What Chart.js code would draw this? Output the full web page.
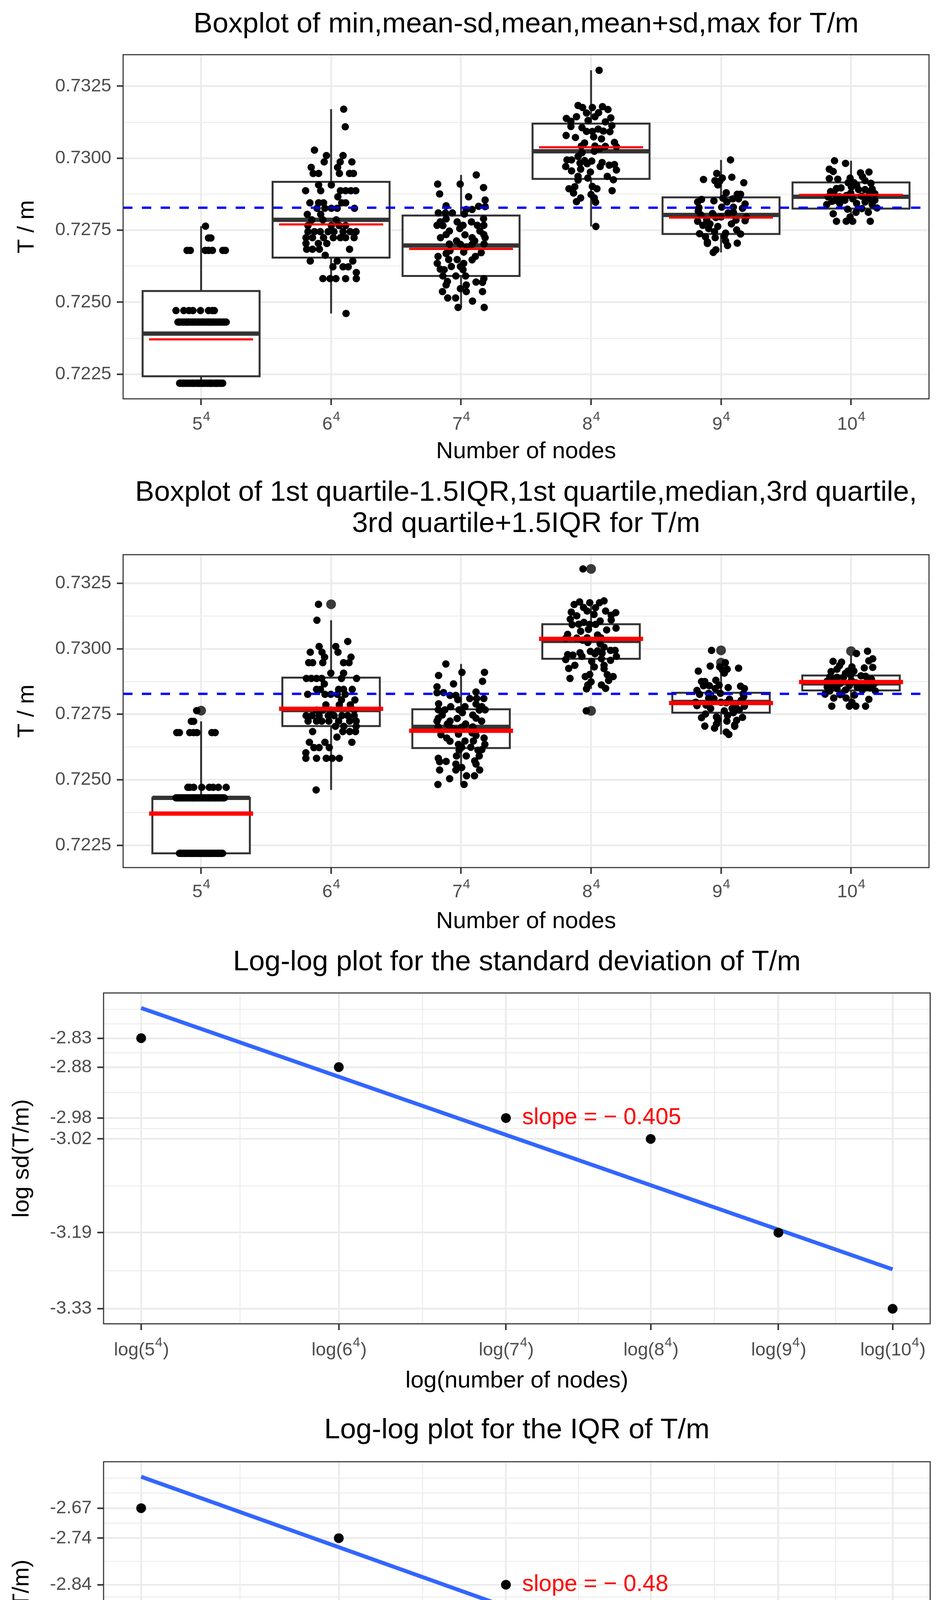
<!DOCTYPE html>
<html>
<head>
<meta charset="utf-8">
<script src="https://cdn.jsdelivr.net/npm/chart.js"></script>
<style>
html, body { margin: 0; padding: 0; background: #ffffff; }
#wrap { position: relative; width: 2400px; height: 4800px; background: #ffffff; }
canvas { position: absolute; left: 0; }
</style>
</head>
<body>
<div id="wrap">
  <canvas id="c1" width="2400" height="1200" style="top:0px"></canvas>
  <canvas id="c2" width="2400" height="1200" style="top:1200px"></canvas>
  <canvas id="c3" width="2400" height="1200" style="top:2400px"></canvas>
  <canvas id="c4" width="2400" height="1200" style="top:3600px"></canvas>
</div>
<script>
// ===================== DATA =====================
const nodeBase = ['5', '6', '7', '8', '9', '10'];
const nodeExp = '4';
const refLine = 0.72828;                       // blue dashed reference level
const yTicksBox = [0.7225, 0.7250, 0.7275, 0.7300, 0.7325];

// jittered observations per category: [horizontal jitter, T/m]
const row = (y, dxs) => dxs.map(d => [d, y]);
const pts5 = [
  ...row(0.72764, [0.034]),
  ...row(0.72723, [0.057, 0.075]),
  ...row(0.72680, [-0.108, -0.083, 0.032, 0.057, 0.087, 0.167, 0.187]),
  ...row(0.72471, [-0.193, -0.133, -0.093, -0.063, -0.005, 0.057, 0.087, 0.102]),
  ...row(0.72431, [-0.178, -0.168, -0.155, -0.141, -0.132, -0.120, -0.104, -0.097, -0.083, -0.071, -0.060, -0.052, -0.038, -0.027, -0.015, -0.004, 0.008, 0.019, 0.031, 0.044, 0.052, 0.066, 0.075, 0.089, 0.098, 0.111, 0.122, 0.136, 0.147, 0.158, 0.170, 0.181, 0.193, 0.063, -0.110]),
  ...row(0.72219, [-0.165, -0.158, -0.149, -0.140, -0.131, -0.122, -0.115, -0.104, -0.096, -0.088, -0.079, -0.071, -0.060, -0.053, -0.044, -0.035, -0.027, -0.018, -0.009, 0.002, 0.011, 0.019, 0.028, 0.037, 0.046, 0.054, 0.063, 0.071, 0.080, 0.089, 0.098, 0.107, 0.115, 0.124, 0.133, 0.141, 0.150, 0.158, 0.166, -0.137, -0.064, 0.006, 0.072, 0.118, -0.021])
];
const pts6 = [[0.097,0.73170],[0.109,0.73109],[-0.128,0.73028],[-0.036,0.73009],[-0.053,0.72987],[0.092,0.73009],[0.070,0.72987],[0.160,0.72987],[-0.153,0.72968],[0.050,0.72968],[-0.138,0.72947],[-0.096,0.72947],[0.064,0.72947],[0.142,0.72947],[0.172,0.72947],[-0.096,0.72907],[0.002,0.72907],[-0.196,0.72887],[-0.080,0.72887],[0.072,0.72887],[0.112,0.72887],[0.152,0.72887],[0.190,0.72887],[0.052,0.72866],[-0.163,0.72845],[-0.096,0.72845],[-0.058,0.72845],[0.082,0.72845],[0.112,0.72845],[-0.108,0.72826],[-0.048,0.72826],[0.002,0.72826],[0.047,0.72826],[0.180,0.72826],[-0.183,0.72805],[-0.080,0.72805],[-0.148,0.72786],[-0.063,0.72786],[0.040,0.72786],[-0.178,0.72766],[0.002,0.72766],[0.062,0.72766],[0.112,0.72766],[-0.178,0.72745],[-0.128,0.72745],[-0.083,0.72745],[-0.023,0.72745],[0.022,0.72745],[0.092,0.72745],[0.147,0.72745],[0.192,0.72745],[-0.193,0.72724],[-0.143,0.72724],[-0.058,0.72724],[0.017,0.72724],[0.072,0.72724],[0.112,0.72724],[0.177,0.72724],[-0.193,0.72704],[-0.098,0.72704],[-0.033,0.72704],[-0.188,0.72684],[-0.143,0.72684],[-0.090,0.72684],[0.142,0.72684],[-0.045,0.72663],[-0.160,0.72643],[0.047,0.72643],[0.167,0.72643],[0.014,0.72623],[0.092,0.72623],[0.132,0.72623],[0.194,0.72603],[-0.063,0.72582],[-0.008,0.72582],[0.037,0.72582],[0.112,0.72582],[0.194,0.72582],[0.115,0.72461]];
const pts7 = [[0.117,0.72942],[-0.180,0.72910],[-0.007,0.72910],[0.173,0.72898],[-0.165,0.72876],[0.058,0.72866],[0.185,0.72855],[-0.115,0.72835],[0.135,0.72833],[0.185,0.72832],[0.040,0.72822],[0.085,0.72822],[-0.175,0.72810],[-0.120,0.72810],[-0.067,0.72810],[0.025,0.72806],[-0.115,0.72789],[0.173,0.72790],[-0.160,0.72779],[-0.030,0.72779],[0.080,0.72779],[-0.185,0.72767],[-0.140,0.72766],[0.015,0.72767],[0.125,0.72767],[0.175,0.72767],[-0.010,0.72756],[-0.090,0.72747],[0.145,0.72747],[-0.115,0.72735],[0.030,0.72734],[0.175,0.72735],[-0.158,0.72724],[0.085,0.72724],[0.185,0.72724],[-0.035,0.72713],[0.105,0.72713],[-0.090,0.72702],[-0.005,0.72701],[0.045,0.72692],[0.085,0.72701],[0.177,0.72702],[-0.085,0.72679],[0.020,0.72674],[0.155,0.72672],[-0.115,0.72669],[-0.177,0.72659],[0.110,0.72659],[-0.095,0.72648],[-0.030,0.72648],[0.085,0.72647],[-0.183,0.72635],[0.020,0.72635],[-0.075,0.72624],[-0.005,0.72624],[-0.160,0.72615],[-0.130,0.72613],[0.015,0.72613],[-0.140,0.72591],[-0.040,0.72591],[0.035,0.72591],[0.175,0.72582],[-0.105,0.72572],[0.115,0.72570],[0.165,0.72569],[-0.115,0.72560],[0.040,0.72560],[-0.005,0.72547],[-0.143,0.72537],[0.040,0.72537],[0.165,0.72537],[-0.103,0.72515],[-0.042,0.72515],[0.088,0.72504],[-0.023,0.72482],[0.178,0.72482]];
const pts8 = [[0.062,0.73305],[-0.100,0.73183],[-0.065,0.73176],[0.010,0.73176],[0.088,0.73179],[0.130,0.73169],[-0.035,0.73157],[0.058,0.73158],[-0.190,0.73138],[-0.112,0.73144],[0.030,0.73144],[0.152,0.73140],[-0.023,0.73131],[-0.155,0.73128],[0.110,0.73126],[-0.155,0.73110],[0.160,0.73113],[-0.070,0.73106],[-0.035,0.73093],[0.010,0.73093],[0.055,0.73101],[0.095,0.73094],[0.145,0.73092],[-0.192,0.73079],[-0.120,0.73072],[0.020,0.73074],[0.080,0.73067],[-0.050,0.73053],[0.180,0.73055],[-0.075,0.73042],[0.030,0.73042],[0.110,0.73041],[0.195,0.73040],[0.025,0.73024],[-0.070,0.73019],[0.065,0.73033],[-0.100,0.73006],[-0.185,0.72994],[-0.150,0.72994],[-0.050,0.72992],[0.005,0.72990],[-0.195,0.72971],[-0.085,0.72983],[-0.030,0.72981],[0.085,0.72985],[0.070,0.72971],[0.140,0.72976],[0.180,0.72978],[-0.150,0.72956],[-0.080,0.72962],[-0.005,0.72952],[0.195,0.72959],[-0.100,0.72937],[-0.025,0.72931],[0.125,0.72937],[-0.100,0.72924],[0.172,0.72925],[-0.170,0.72894],[-0.125,0.72901],[0.010,0.72902],[0.045,0.72894],[-0.135,0.72879],[0.162,0.72887],[0.000,0.72874],[-0.080,0.72862],[-0.112,0.72849],[0.025,0.72862],[0.035,0.72847],[0.037,0.72763]];
const pts9 = [[0.073,0.72994],[-0.033,0.72947],[-0.135,0.72926],[0.010,0.72931],[0.083,0.72934],[-0.047,0.72922],[-0.010,0.72920],[0.175,0.72915],[-0.025,0.72907],[0.040,0.72880],[0.125,0.72875],[0.150,0.72875],[-0.150,0.72857],[-0.180,0.72848],[-0.055,0.72852],[0.015,0.72861],[0.090,0.72859],[0.045,0.72848],[0.135,0.72859],[0.185,0.72841],[0.005,0.72830],[0.095,0.72830],[-0.170,0.72828],[0.165,0.72826],[-0.175,0.72817],[-0.065,0.72808],[0.055,0.72810],[0.095,0.72812],[-0.155,0.72803],[0.000,0.72796],[0.195,0.72796],[-0.110,0.72785],[-0.040,0.72794],[-0.180,0.72781],[0.115,0.72785],[0.185,0.72783],[-0.140,0.72767],[-0.085,0.72772],[-0.025,0.72763],[0.080,0.72772],[-0.095,0.72756],[-0.050,0.72745],[0.120,0.72751],[-0.165,0.72738],[0.035,0.72740],[0.150,0.72737],[-0.120,0.72727],[-0.045,0.72724],[0.025,0.72729],[-0.105,0.72709],[0.035,0.72713],[0.125,0.72705],[0.050,0.72697],[-0.105,0.72704],[-0.040,0.72682],[-0.060,0.72673]];
const pts10 = [[-0.127,0.72991],[-0.042,0.72982],[-0.167,0.72962],[-0.137,0.72954],[0.073,0.72949],[0.138,0.72952],[0.088,0.72936],[-0.167,0.72929],[-0.102,0.72927],[-0.007,0.72931],[-0.022,0.72915],[0.023,0.72915],[0.108,0.72922],[0.153,0.72913],[-0.112,0.72895],[-0.077,0.72897],[0.003,0.72900],[0.043,0.72906],[-0.157,0.72884],[0.058,0.72891],[0.108,0.72891],[0.163,0.72893],[-0.132,0.72879],[-0.002,0.72879],[0.183,0.72877],[-0.177,0.72866],[-0.087,0.72866],[-0.037,0.72870],[0.083,0.72868],[0.013,0.72859],[0.133,0.72859],[-0.117,0.72854],[-0.047,0.72854],[0.183,0.72854],[-0.187,0.72839],[0.108,0.72848],[0.043,0.72843],[-0.087,0.72843],[0.163,0.72839],[0.200,0.72827],[-0.027,0.72823],[0.083,0.72825],[0.038,0.72812],[-0.137,0.72807],[0.133,0.72812],[-0.112,0.72781],[-0.037,0.72781],[0.013,0.72781],[0.148,0.72781],[-0.007,0.72796],[-0.147,0.72850],[0.143,0.72879]];
const ptsAll = [pts5, pts6, pts7, pts8, pts9, pts10];

// panel 1: min, mean-sd, mean, mean+sd, max and red mean line
const p1Min   = [0.72219, 0.72461, 0.72482, 0.72763, 0.72673, 0.72781];
const p1Lower = [0.72243, 0.72655, 0.72591, 0.72928, 0.72737, 0.72825];
const p1Mid   = [0.72391, 0.72786, 0.72697, 0.73024, 0.72803, 0.72866];
const p1Upper = [0.72539, 0.72918, 0.72801, 0.73120, 0.72864, 0.72916];
const p1Max   = [0.72764, 0.73170, 0.72942, 0.73305, 0.72994, 0.72991];
const p1Red   = [0.72371, 0.72770, 0.72685, 0.73038, 0.72794, 0.72873];

// panel 2: Q1-1.5IQR, Q1, median, Q3, Q3+1.5IQR, mean and outliers
const p2Lo   = [0.72219, 0.72461, 0.72482, 0.72847, 0.72673, 0.72781];
const p2Q1   = [0.72219, 0.72705, 0.72621, 0.72962, 0.72756, 0.72841];
const p2Med  = [0.72431, 0.72766, 0.72702, 0.73030, 0.72797, 0.72868];
const p2Q3   = [0.72431, 0.72890, 0.72769, 0.73094, 0.72832, 0.72898];
const p2Hi   = [0.72723, 0.73109, 0.72942, 0.73183, 0.72934, 0.72982];
const p2Mean = [0.72371, 0.72771, 0.72687, 0.73038, 0.72793, 0.72873];
const p2Outliers = [[1, 0.72764], [2, 0.73170], [4, 0.73305], [4, 0.72763], [5, 0.72994], [5, 0.72947], [6, 0.72991]];

// panels 3 & 4: log10 of sd and IQR of T/m
const logSd  = [-2.828, -2.882, -2.977, -3.016, -3.191, -3.333];
const logIqr = [-2.672, -2.737, -2.838, -2.891, -3.131, -3.256];
const slopeSdText  = 'slope = \u2212 0.405';
const slopeIqrText = 'slope = \u2212 0.48';

// ===================== DRAWING =====================
const FONT = '"Liberation Sans", Arial, Helvetica, sans-serif';
Chart.defaults.font.family = FONT;
const W = 2400, H = 1200;
const TICK_COL = '#4D4D4D';
const TITLE_PX = 73, AXTITLE_PX = 60, TICK_PX = 47, SUP_PX = 34;

const isMinor = c => !!(c && c.tick && c.tick.minor);
function gridOpts() {
  return {
    color: '#EBEBEB',
    lineWidth: c => isMinor(c) ? 2.3 : 4.5,
    drawTicks: true,
    tickLength: 16,
    tickColor: c => isMinor(c) ? 'rgba(0,0,0,0)' : '#333333',
    tickWidth: 4
  };
}
function minorBreaks(majors, lo, hi) {
  const b = majors.slice();
  const bd = b[1] - b[0];
  const ext = [b[0] - bd, ...b, b[b.length - 1] + bd];
  const out = [];
  for (let i = 0; i < ext.length - 1; i++) { out.push(ext[i], (ext[i] + ext[i + 1]) / 2); }
  out.push(ext[ext.length - 1]);
  return out.filter(v => v > lo && v < hi && !majors.some(m => Math.abs(m - v) < 1e-9));
}
function buildTicks(majors, lo, hi) {
  const t = majors.filter(v => v >= lo && v <= hi).map(v => ({ value: v, minor: false }))
    .concat(minorBreaks(majors, lo, hi).map(v => ({ value: v, minor: true })));
  return t.sort((a, b) => a.value - b.value);
}

function makeGG(cfg) {
  return {
    id: 'gg' + cfg.id,
    afterDraw(chart) {
      const ctx = chart.ctx, a = chart.chartArea;
      const cx = (a.left + a.right) / 2, cy = (a.top + a.bottom) / 2;
      ctx.save();
      ctx.strokeStyle = '#333333';
      ctx.lineWidth = 2.8;
      ctx.strokeRect(a.left, a.top, a.right - a.left, a.bottom - a.top);
      ctx.fillStyle = '#000000';
      ctx.textAlign = 'center';
      ctx.textBaseline = 'alphabetic';
      ctx.font = TITLE_PX + 'px ' + FONT;
      cfg.title.forEach((t, i) => ctx.fillText(t, cx, cfg.titleY[i]));
      ctx.font = AXTITLE_PX + 'px ' + FONT;
      ctx.fillText(cfg.xTitle, cx, cfg.xTitleY);
      ctx.save();
      ctx.translate(cfg.yTitleX, cy);
      ctx.rotate(-Math.PI / 2);
      ctx.fillText(cfg.yTitle, 0, 0);
      ctx.restore();
      // x tick labels with superscript exponent
      const xs = chart.scales.x;
      const mainF = TICK_PX + 'px ' + FONT, supF = SUP_PX + 'px ' + FONT;
      ctx.fillStyle = TICK_COL;
      ctx.textAlign = 'left';
      cfg.xLabels.forEach(l => {
        const px = xs.getPixelForValue(l.value);
        ctx.font = mainF;
        const w1 = ctx.measureText(l.pre + l.base).width;
        const w3 = ctx.measureText(l.post).width;
        ctx.font = supF;
        const w2 = ctx.measureText(l.sup).width;
        let x = px - (w1 + w2 + w3) / 2;
        const y = cfg.xLabelY;
        ctx.font = mainF; ctx.fillText(l.pre + l.base, x, y); x += w1;
        ctx.font = supF; ctx.fillText(l.sup, x + 1, y - 23); x += w2 + 2;
        ctx.font = mainF; ctx.fillText(l.post, x, y);
      });
      if (cfg.note) {
        ctx.fillStyle = '#FF0000';
        ctx.font = '59px ' + FONT;
        ctx.textAlign = 'left';
        ctx.textBaseline = 'middle';
        ctx.fillText(cfg.note.text, xs.getPixelForValue(cfg.note.x), chart.scales.y.getPixelForValue(cfg.note.y));
      }
      ctx.restore();
    }
  };
}

function segs(vals, half) {
  const d = [];
  vals.forEach((v, i) => { d.push({ x: i + 1 - half, y: v }, { x: i + 1 + half, y: v }, { x: i + 1.5, y: null }); });
  return d;
}
function vsegs(los, his) {
  const d = [];
  los.forEach((lo, i) => { d.push({ x: i + 1, y: lo }, { x: i + 1, y: his[i] }, { x: i + 1.5, y: null }); });
  return d;
}
const lineBase = { type: 'line', pointRadius: 0, pointHoverRadius: 0, spanGaps: false, tension: 0, fill: false };

const allBoxY = ptsAll.flat().map(p => p[1]).concat(p2Outliers.map(p => p[1]));
const boxYMin = Math.min(...allBoxY), boxYMax = Math.max(...allBoxY);
const boxPad = (boxYMax - boxYMin) * 0.05;
const BOX_YLO = boxYMin - boxPad, BOX_YHI = boxYMax + boxPad;
const BOX_XLO = 0.4, BOX_XHI = nodeBase.length + 0.6;

function boxChart(id, s) {
  const ds = [];
  ds.push(Object.assign({}, lineBase, { data: [{ x: BOX_XLO, y: refLine }, { x: BOX_XHI, y: refLine }], borderColor: '#0000FF', borderWidth: 6, borderDash: [24, 24], order: 0 }));
  ds.push(Object.assign({}, lineBase, { data: segs(s.red, 0.4), borderColor: '#FF0000', borderWidth: s.redW, borderCapStyle: 'butt', order: 1 }));
  ds.push({ type: 'scatter', data: ptsAll.flatMap((arr, i) => arr.map(([dx, y]) => ({ x: i + 1 + s.jit * dx, y }))), pointRadius: 9.5, pointHoverRadius: 9.5, pointBackgroundColor: '#000000', pointBorderWidth: 0, borderWidth: 0, order: 2 });
  if (s.outliers) {
    ds.push({ type: 'scatter', data: s.outliers.map(([c, y]) => ({ x: c, y })), pointRadius: 12.5, pointHoverRadius: 12.5, pointBackgroundColor: '#3A3A3A', pointBorderWidth: 0, borderWidth: 0, order: 3 });
  }
  ds.push(Object.assign({}, lineBase, { data: segs(s.mid, s.half), borderColor: '#333333', borderWidth: 11, borderCapStyle: 'butt', order: 4 }));
  s.lower.forEach((q1, i) => {
    const q3 = s.upper[i], c = i + 1, h = s.half;
    ds.push(Object.assign({}, lineBase, {
      data: [{ x: c - h, y: q1 }, { x: c + h, y: q1 }, { x: c + h, y: q3 }, { x: c - h, y: q3 }, { x: c - h, y: q1 }],
      fill: 'shape', backgroundColor: '#FFFFFF', borderColor: '#333333', borderWidth: 5, borderCapStyle: 'square', borderJoinStyle: 'miter', order: 5
    }));
  });
  ds.push(Object.assign({}, lineBase, { data: vsegs(s.wlo, s.lower).concat(vsegs(s.upper, s.whi)), borderColor: '#333333', borderWidth: 5, order: 6 }));

  const P = s.plot;
  new Chart(document.getElementById(id), {
    type: 'scatter',
    data: { datasets: ds },
    options: {
      responsive: false, animation: false, devicePixelRatio: 1, events: [],
      layout: { autoPadding: false, padding: { left: 0, top: P.top, right: W - P.right, bottom: 0 } },
      plugins: { legend: { display: false }, tooltip: { enabled: false }, title: { display: false } },
      scales: {
        x: {
          type: 'linear', min: BOX_XLO, max: BOX_XHI,
          afterBuildTicks: sc => { sc.ticks = nodeBase.map((_, i) => ({ value: i + 1, minor: false })); },
          ticks: { display: false, autoSkip: false },
          grid: gridOpts(), border: { display: false },
          afterFit: sc => { sc.height = H - P.bottom; }
        },
        y: {
          type: 'linear', min: BOX_YLO, max: BOX_YHI,
          afterBuildTicks: sc => { sc.ticks = buildTicks(yTicksBox, BOX_YLO, BOX_YHI); },
          ticks: { autoSkip: false, padding: 14, color: TICK_COL, font: { size: TICK_PX, family: FONT },
                   callback: (v, i, t) => (t[i] && t[i].minor) ? '' : Number(v).toFixed(4) },
          grid: gridOpts(), border: { display: false },
          afterFit: sc => { sc.width = P.left; }
        }
      }
    },
    plugins: [makeGG(s.gg)]
  });
}

const boxXLabels = nodeBase.map((b, i) => ({ value: i + 1, pre: '', base: b, sup: nodeExp, post: '' }));

boxChart('c1', {
  plot: { left: 315, right: 2377, top: 140, bottom: 1021 },
  lower: p1Lower, upper: p1Upper, mid: p1Mid, wlo: p1Min, whi: p1Max, red: p1Red,
  half: 0.45, redW: 5.5, jit: 1,
  gg: { id: 1, title: ['Boxplot of min,mean-sd,mean,mean+sd,max for T/m'], titleY: [83],
        xTitle: 'Number of nodes', xTitleY: 1173, yTitle: 'T / m', yTitleX: 86, xLabelY: 1100, xLabels: boxXLabels }
});
boxChart('c2', {
  plot: { left: 315, right: 2377, top: 220, bottom: 1021 },
  lower: p2Q1, upper: p2Q3, mid: p2Med, wlo: p2Lo, whi: p2Hi, red: p2Mean, outliers: p2Outliers,
  half: 0.375, redW: 11, jit: -1,
  gg: { id: 2, title: ['Boxplot of 1st quartile-1.5IQR,1st quartile,median,3rd quartile,', '3rd quartile+1.5IQR for T/m'], titleY: [82, 162],
        xTitle: 'Number of nodes', xTitleY: 1176, yTitle: 'T / m', yTitleX: 86, xLabelY: 1097, xLabels: boxXLabels }
});

// ---------- log-log panels ----------
const logN = nodeBase.map(b => Math.log10(Math.pow(Number(b), Number(nodeExp))));
function lsFit(xs, ys) {
  const n = xs.length;
  const mx = xs.reduce((a, b) => a + b, 0) / n, my = ys.reduce((a, b) => a + b, 0) / n;
  let sxy = 0, sxx = 0;
  for (let i = 0; i < n; i++) { sxy += (xs[i] - mx) * (ys[i] - my); sxx += (xs[i] - mx) ** 2; }
  const b = sxy / sxx;
  return { a: my - b * mx, b };
}
function logChart(id, ys, s) {
  const xs = logN;
  const f = lsFit(xs, ys);
  const x0 = Math.min(...xs), x1 = Math.max(...xs);
  const lineData = [{ x: x0, y: f.a + f.b * x0 }, { x: x1, y: f.a + f.b * x1 }];
  const allY = ys.concat(lineData.map(p => p.y));
  const yMin = Math.min(...allY), yMax = Math.max(...allY);
  const yPad = (yMax - yMin) * 0.05, xPad = (x1 - x0) * 0.05;
  const XLO = x0 - xPad, XHI = x1 + xPad, YLO = yMin - yPad, YHI = yMax + yPad;
  const P = s.plot;
  new Chart(document.getElementById(id), {
    type: 'scatter',
    data: { datasets: [
      { type: 'scatter', data: xs.map((x, i) => ({ x, y: ys[i] })), pointRadius: 12.5, pointHoverRadius: 12.5, pointBackgroundColor: '#000000', pointBorderWidth: 0, borderWidth: 0, order: 0 },
      Object.assign({}, lineBase, { data: lineData, borderColor: '#3366FF', borderWidth: 10, borderCapStyle: 'butt', order: 1 })
    ] },
    options: {
      responsive: false, animation: false, devicePixelRatio: 1, events: [],
      layout: { autoPadding: false, padding: { left: 0, top: P.top, right: W - P.right, bottom: 0 } },
      plugins: { legend: { display: false }, tooltip: { enabled: false }, title: { display: false } },
      scales: {
        x: {
          type: 'linear', min: XLO, max: XHI,
          afterBuildTicks: sc => { sc.ticks = buildTicks(xs, XLO, XHI); },
          ticks: { display: false, autoSkip: false },
          grid: gridOpts(), border: { display: false },
          afterFit: sc => { sc.height = H - P.bottom; }
        },
        y: {
          type: 'linear', min: YLO, max: YHI,
          afterBuildTicks: sc => { sc.ticks = buildTicks(ys, YLO, YHI); },
          ticks: { autoSkip: false, padding: 14, color: TICK_COL, font: { size: TICK_PX, family: FONT },
                   callback: (v, i, t) => (t[i] && t[i].minor) ? '' : Number(v).toFixed(2) },
          grid: gridOpts(), border: { display: false },
          afterFit: sc => { sc.width = P.left; }
        }
      }
    },
    plugins: [makeGG(Object.assign({}, s.gg, {
      xLabels: xs.map((x, i) => ({ value: x, pre: 'log(', base: nodeBase[i], sup: nodeExp, post: ')' })),
      note: { x: xs[2] + 0.026, y: ys[2], text: s.noteText }
    }))]
  });
}

logChart('c3', logSd, {
  plot: { left: 265, right: 2380, top: 142, bottom: 989 },
  noteText: slopeSdText,
  gg: { id: 3, title: ['Log-log plot for the standard deviation of T/m'], titleY: [84],
        xTitle: 'log(number of nodes)', xTitleY: 1152, yTitle: 'log sd(T/m)', yTitleX: 73, xLabelY: 1070 }
});
logChart('c4', logIqr, {
  plot: { left: 265, right: 2380, top: 142, bottom: 989 },
  noteText: slopeIqrText,
  gg: { id: 4, title: ['Log-log plot for the IQR of T/m'], titleY: [82],
        xTitle: 'log(number of nodes)', xTitleY: 1152, yTitle: 'log IQR(T/m)', yTitleX: 73, xLabelY: 1070 }
});
</script>
</body>
</html>
